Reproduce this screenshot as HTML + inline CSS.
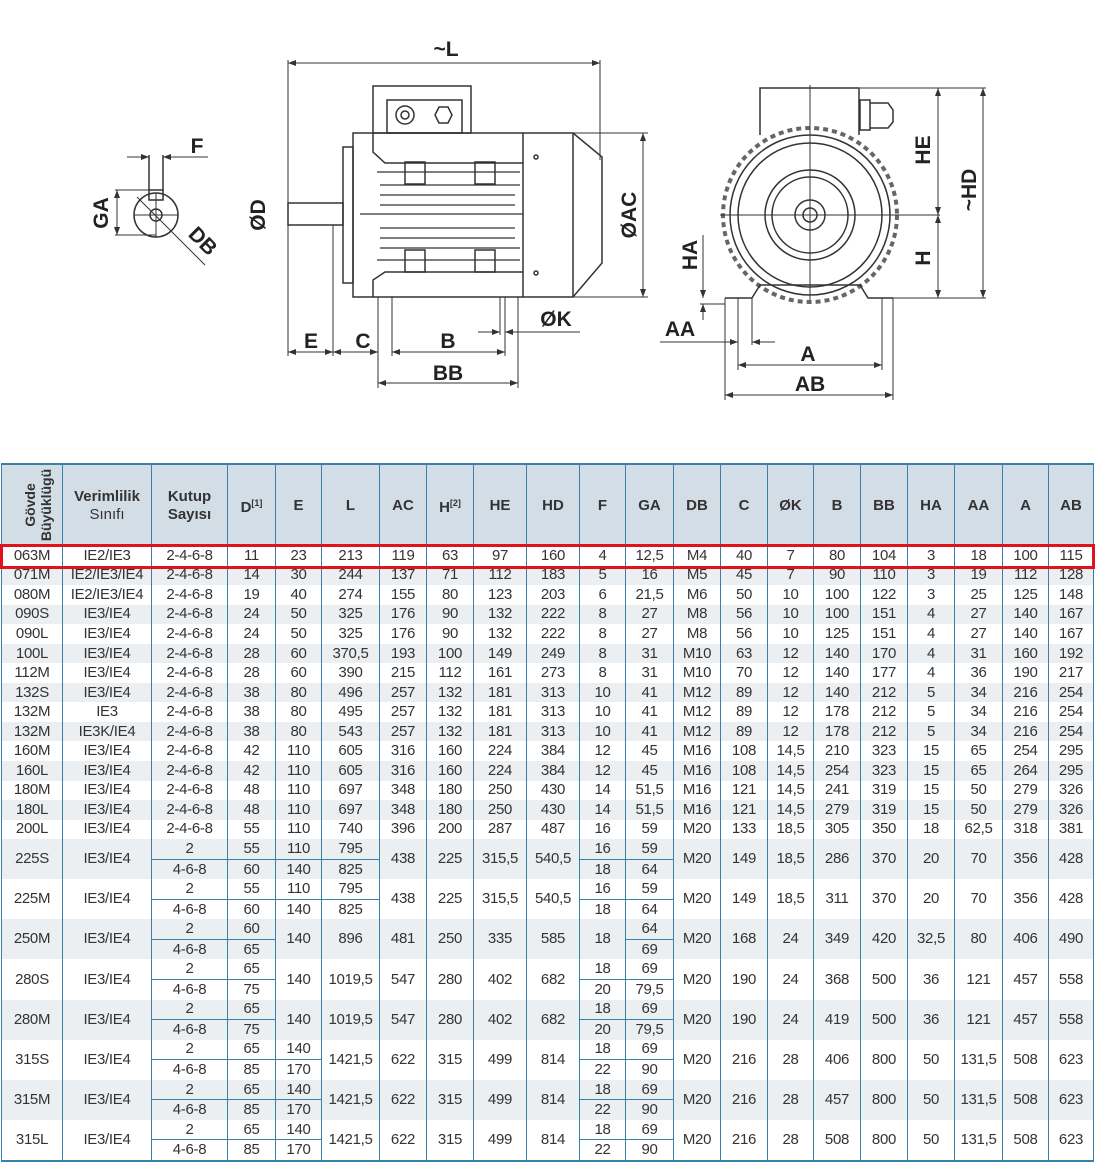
<!DOCTYPE html>
<html><head><meta charset="utf-8">
<style>
body{margin:0;width:1095px;height:1168px;background:#fff;position:relative;overflow:hidden;font-family:"Liberation Sans",sans-serif;}
svg{position:absolute;left:0;top:0}
table{position:absolute;left:1px;top:463px;border-collapse:collapse;table-layout:fixed;width:1092px;border-top:2px solid #3a7fa7;border-bottom:2px solid #3a7fa7;}
td{border-left:1.5px solid #3a7fa7;border-right:1.5px solid #3a7fa7;text-align:center;padding:0;font-size:15px;color:#333;height:19.55px;line-height:16px;white-space:nowrap;overflow:hidden;letter-spacing:-0.3px}
tr.h td{background:#d3dde6;height:81px;font-weight:bold;font-size:15px;color:#333;line-height:18px;letter-spacing:0}
tr.s td{background:#ebeff2}
td.t{border-bottom:1.5px solid #3a7fa7}
.v{display:inline-block;transform:rotate(-90deg);white-space:nowrap;line-height:16px;font-size:14px}
sup{font-size:9px}
#red{position:absolute;left:0;top:544px;width:1089px;height:19px;border:3px solid #e0121b}
</style></head><body>
<svg width="1095" height="460" viewBox="0 0 1095 460" font-family="Liberation Sans" font-weight="bold" font-size="21" fill="none" stroke="#333">
<defs><marker id="a" markerWidth="8" markerHeight="6" refX="8" refY="3" orient="auto-start-reverse"><path d="M0,0 L8,3 L0,6z" fill="#333" stroke="none"/></marker></defs>
<g stroke-width="1.5">
<circle cx="156" cy="215" r="22"/><circle cx="156" cy="215" r="6"/>
<rect x="149" y="190" width="14" height="10"/>
<line x1="149" y1="155" x2="149" y2="190"/><line x1="163" y1="155" x2="163" y2="190"/>
</g>
<g stroke-width="1">
<line x1="127" y1="157" x2="149" y2="157" marker-end="url(#a)"/><line x1="208" y1="157" x2="163" y2="157" marker-end="url(#a)"/>
<line x1="115" y1="190" x2="149" y2="190"/><line x1="115" y1="235" x2="156" y2="235"/>
<line x1="117" y1="213" x2="117" y2="190" marker-end="url(#a)"/><line x1="117" y1="213" x2="117" y2="235" marker-end="url(#a)"/>
<line x1="137" y1="197" x2="205" y2="265"/><line x1="134" y1="215" x2="178" y2="215"/><line x1="156" y1="193" x2="156" y2="237"/>
</g>
<g stroke-width="1.5">
<rect x="373" y="86" width="98" height="47"/><rect x="387" y="100" width="75" height="33"/>
<circle cx="405" cy="115" r="9"/><circle cx="405" cy="115" r="4"/>
<polygon points="435,115 439,107 448,107 452,115 448,123 439,123"/>
<rect x="353" y="133" width="170" height="164"/>
<rect x="343" y="147" width="10" height="136"/>
<path d="M523,133 H573 L602,157 V263 L573,297 H523"/><line x1="573" y1="133" x2="573" y2="297"/>
<rect x="288" y="203" width="55" height="22"/>
<path d="M373,133 V152 L385,163 H523"/><path d="M373,297 V280 L385,272 H523"/>
<rect x="405" y="162" width="20" height="22"/><rect x="475" y="162" width="20" height="22"/>
<rect x="405" y="250" width="20" height="22"/><rect x="475" y="250" width="20" height="22"/>
<circle cx="536" cy="157" r="2"/><circle cx="536" cy="273" r="2"/>
</g>
<g stroke-width="1.2">
<line x1="377" y1="172" x2="520" y2="172"/><line x1="380" y1="185" x2="520" y2="185"/><line x1="380" y1="195" x2="515" y2="195"/><line x1="380" y1="205" x2="515" y2="205"/>
<line x1="360" y1="214" x2="523" y2="214"/>
<line x1="380" y1="228" x2="515" y2="228"/><line x1="380" y1="238" x2="515" y2="238"/><line x1="380" y1="248" x2="520" y2="248"/><line x1="377" y1="260" x2="520" y2="260"/>
</g>
<g stroke-width="1">
<line x1="288" y1="63" x2="600" y2="63" marker-start="url(#a)" marker-end="url(#a)"/>
<line x1="288" y1="60" x2="288" y2="356"/><line x1="600" y1="60" x2="600" y2="160"/>
<line x1="333" y1="225" x2="333" y2="356"/><line x1="378" y1="297" x2="378" y2="388"/><line x1="392" y1="297" x2="392" y2="356"/>
<line x1="500" y1="297" x2="500" y2="335"/><line x1="505" y1="297" x2="505" y2="356"/><line x1="518" y1="297" x2="518" y2="388"/>
<line x1="288" y1="352" x2="333" y2="352" marker-start="url(#a)" marker-end="url(#a)"/>
<line x1="333" y1="352" x2="378" y2="352" marker-start="url(#a)" marker-end="url(#a)"/>
<line x1="392" y1="352" x2="505" y2="352" marker-start="url(#a)" marker-end="url(#a)"/>
<line x1="378" y1="383" x2="518" y2="383" marker-start="url(#a)" marker-end="url(#a)"/>
<line x1="478" y1="332" x2="500" y2="332" marker-end="url(#a)"/><line x1="580" y1="332" x2="505" y2="332" marker-end="url(#a)"/>
<line x1="573" y1="133" x2="648" y2="133"/><line x1="573" y1="297" x2="648" y2="297"/>
<line x1="643" y1="133" x2="643" y2="297" marker-start="url(#a)" marker-end="url(#a)"/>
</g>
<g stroke-width="1.5">
<path d="M760,135 V88 H859 V135"/><rect x="860" y="100" width="10" height="30"/><path d="M870,103 H888 L893,110 V122 L888,128 H870"/>
<circle cx="810" cy="215" r="87" stroke-dasharray="5 4" stroke-width="4" stroke="#666"/>
<circle cx="810" cy="215" r="80"/><circle cx="810" cy="215" r="72"/>
<circle cx="810" cy="215" r="45"/><circle cx="810" cy="215" r="38"/>
<circle cx="810" cy="215" r="15"/><circle cx="810" cy="215" r="7"/>
<path d="M725,298 H752 L760,285 H860 L868,298 H893"/>
</g>
<g stroke-width="1">
<line x1="720" y1="215" x2="940" y2="215"/><line x1="810" y1="85" x2="810" y2="300"/>
<line x1="860" y1="88" x2="986" y2="88"/><line x1="893" y1="298" x2="986" y2="298"/>
<line x1="938" y1="88" x2="938" y2="215" marker-start="url(#a)" marker-end="url(#a)"/>
<line x1="938" y1="215" x2="938" y2="298" marker-start="url(#a)" marker-end="url(#a)"/>
<line x1="983" y1="88" x2="983" y2="298" marker-start="url(#a)" marker-end="url(#a)"/>
<line x1="725" y1="298" x2="725" y2="400"/><line x1="738" y1="298" x2="738" y2="370"/><line x1="752" y1="298" x2="752" y2="345"/>
<line x1="882" y1="298" x2="882" y2="370"/><line x1="893" y1="298" x2="893" y2="400"/>
<line x1="703" y1="235" x2="703" y2="298" marker-end="url(#a)"/><line x1="703" y1="320" x2="703" y2="304" marker-end="url(#a)"/>
<line x1="700" y1="304" x2="725" y2="304"/>
<line x1="660" y1="342" x2="738" y2="342" marker-end="url(#a)"/><line x1="775" y1="342" x2="752" y2="342" marker-end="url(#a)"/>
<line x1="738" y1="365" x2="882" y2="365" marker-start="url(#a)" marker-end="url(#a)"/>
<line x1="725" y1="395" x2="893" y2="395" marker-start="url(#a)" marker-end="url(#a)"/>
</g>
<g fill="#222" stroke="none">
<text x="197" y="153" text-anchor="middle">F</text>
<text transform="translate(108,213) rotate(-90)" text-anchor="middle">GA</text>
<text transform="translate(198,246) rotate(45)" text-anchor="middle">DB</text>
<text x="446" y="56" text-anchor="middle">~L</text>
<text transform="translate(265,215) rotate(-90)" text-anchor="middle">ØD</text>
<text x="311" y="348" text-anchor="middle">E</text><text x="363" y="348" text-anchor="middle">C</text>
<text x="448" y="348" text-anchor="middle">B</text><text x="448" y="380" text-anchor="middle">BB</text>
<text x="556" y="326" text-anchor="middle">ØK</text>
<text transform="translate(636,215) rotate(-90)" text-anchor="middle">ØAC</text>
<text transform="translate(697,255) rotate(-90)" text-anchor="middle">HA</text>
<text x="680" y="336" text-anchor="middle">AA</text>
<text x="808" y="361" text-anchor="middle">A</text><text x="810" y="391" text-anchor="middle">AB</text>
<text transform="translate(930,150) rotate(-90)" text-anchor="middle">HE</text>
<text transform="translate(930,258) rotate(-90)" text-anchor="middle">H</text>
<text transform="translate(976,190) rotate(-90)" text-anchor="middle">~HD</text>
</g>
</svg>
<table>
<colgroup><col style="width:61px"><col style="width:89px"><col style="width:76px"><col style="width:48px"><col style="width:46px"><col style="width:58px"><col style="width:47px"><col style="width:47px"><col style="width:53px"><col style="width:53px"><col style="width:46px"><col style="width:48px"><col style="width:47px"><col style="width:47px"><col style="width:46px"><col style="width:47px"><col style="width:47px"><col style="width:47px"><col style="width:48px"><col style="width:46px"><col style="width:45px"></colgroup>
<tr class="h"><td><span class="v">Gövde<br>Büyüklügü</span></td><td>Verimlilik<br><span style="font-weight:normal">Sınıfı</span></td><td>Kutup<br>Sayısı</td><td>D<sup>[1]</sup></td><td>E</td><td>L</td><td>AC</td><td>H<sup>[2]</sup></td><td>HE</td><td>HD</td><td>F</td><td>GA</td><td>DB</td><td>C</td><td>ØK</td><td>B</td><td>BB</td><td>HA</td><td>AA</td><td>A</td><td>AB</td></tr>
<tr><td>063M</td><td>IE2/IE3</td><td>2-4-6-8</td><td>11</td><td>23</td><td>213</td><td>119</td><td>63</td><td>97</td><td>160</td><td>4</td><td>12,5</td><td>M4</td><td>40</td><td>7</td><td>80</td><td>104</td><td>3</td><td>18</td><td>100</td><td>115</td></tr>
<tr class="s"><td>071M</td><td>IE2/IE3/IE4</td><td>2-4-6-8</td><td>14</td><td>30</td><td>244</td><td>137</td><td>71</td><td>112</td><td>183</td><td>5</td><td>16</td><td>M5</td><td>45</td><td>7</td><td>90</td><td>110</td><td>3</td><td>19</td><td>112</td><td>128</td></tr>
<tr><td>080M</td><td>IE2/IE3/IE4</td><td>2-4-6-8</td><td>19</td><td>40</td><td>274</td><td>155</td><td>80</td><td>123</td><td>203</td><td>6</td><td>21,5</td><td>M6</td><td>50</td><td>10</td><td>100</td><td>122</td><td>3</td><td>25</td><td>125</td><td>148</td></tr>
<tr class="s"><td>090S</td><td>IE3/IE4</td><td>2-4-6-8</td><td>24</td><td>50</td><td>325</td><td>176</td><td>90</td><td>132</td><td>222</td><td>8</td><td>27</td><td>M8</td><td>56</td><td>10</td><td>100</td><td>151</td><td>4</td><td>27</td><td>140</td><td>167</td></tr>
<tr><td>090L</td><td>IE3/IE4</td><td>2-4-6-8</td><td>24</td><td>50</td><td>325</td><td>176</td><td>90</td><td>132</td><td>222</td><td>8</td><td>27</td><td>M8</td><td>56</td><td>10</td><td>125</td><td>151</td><td>4</td><td>27</td><td>140</td><td>167</td></tr>
<tr class="s"><td>100L</td><td>IE3/IE4</td><td>2-4-6-8</td><td>28</td><td>60</td><td>370,5</td><td>193</td><td>100</td><td>149</td><td>249</td><td>8</td><td>31</td><td>M10</td><td>63</td><td>12</td><td>140</td><td>170</td><td>4</td><td>31</td><td>160</td><td>192</td></tr>
<tr><td>112M</td><td>IE3/IE4</td><td>2-4-6-8</td><td>28</td><td>60</td><td>390</td><td>215</td><td>112</td><td>161</td><td>273</td><td>8</td><td>31</td><td>M10</td><td>70</td><td>12</td><td>140</td><td>177</td><td>4</td><td>36</td><td>190</td><td>217</td></tr>
<tr class="s"><td>132S</td><td>IE3/IE4</td><td>2-4-6-8</td><td>38</td><td>80</td><td>496</td><td>257</td><td>132</td><td>181</td><td>313</td><td>10</td><td>41</td><td>M12</td><td>89</td><td>12</td><td>140</td><td>212</td><td>5</td><td>34</td><td>216</td><td>254</td></tr>
<tr><td>132M</td><td>IE3</td><td>2-4-6-8</td><td>38</td><td>80</td><td>495</td><td>257</td><td>132</td><td>181</td><td>313</td><td>10</td><td>41</td><td>M12</td><td>89</td><td>12</td><td>178</td><td>212</td><td>5</td><td>34</td><td>216</td><td>254</td></tr>
<tr class="s"><td>132M</td><td>IE3K/IE4</td><td>2-4-6-8</td><td>38</td><td>80</td><td>543</td><td>257</td><td>132</td><td>181</td><td>313</td><td>10</td><td>41</td><td>M12</td><td>89</td><td>12</td><td>178</td><td>212</td><td>5</td><td>34</td><td>216</td><td>254</td></tr>
<tr><td>160M</td><td>IE3/IE4</td><td>2-4-6-8</td><td>42</td><td>110</td><td>605</td><td>316</td><td>160</td><td>224</td><td>384</td><td>12</td><td>45</td><td>M16</td><td>108</td><td>14,5</td><td>210</td><td>323</td><td>15</td><td>65</td><td>254</td><td>295</td></tr>
<tr class="s"><td>160L</td><td>IE3/IE4</td><td>2-4-6-8</td><td>42</td><td>110</td><td>605</td><td>316</td><td>160</td><td>224</td><td>384</td><td>12</td><td>45</td><td>M16</td><td>108</td><td>14,5</td><td>254</td><td>323</td><td>15</td><td>65</td><td>264</td><td>295</td></tr>
<tr><td>180M</td><td>IE3/IE4</td><td>2-4-6-8</td><td>48</td><td>110</td><td>697</td><td>348</td><td>180</td><td>250</td><td>430</td><td>14</td><td>51,5</td><td>M16</td><td>121</td><td>14,5</td><td>241</td><td>319</td><td>15</td><td>50</td><td>279</td><td>326</td></tr>
<tr class="s"><td>180L</td><td>IE3/IE4</td><td>2-4-6-8</td><td>48</td><td>110</td><td>697</td><td>348</td><td>180</td><td>250</td><td>430</td><td>14</td><td>51,5</td><td>M16</td><td>121</td><td>14,5</td><td>279</td><td>319</td><td>15</td><td>50</td><td>279</td><td>326</td></tr>
<tr><td>200L</td><td>IE3/IE4</td><td>2-4-6-8</td><td>55</td><td>110</td><td>740</td><td>396</td><td>200</td><td>287</td><td>487</td><td>16</td><td>59</td><td>M20</td><td>133</td><td>18,5</td><td>305</td><td>350</td><td>18</td><td>62,5</td><td>318</td><td>381</td></tr>
<tr class="s"><td rowspan="2">225S</td><td rowspan="2">IE3/IE4</td><td class="t">2</td><td class="t">55</td><td class="t">110</td><td class="t">795</td><td rowspan="2">438</td><td rowspan="2">225</td><td rowspan="2">315,5</td><td rowspan="2">540,5</td><td class="t">16</td><td class="t">59</td><td rowspan="2">M20</td><td rowspan="2">149</td><td rowspan="2">18,5</td><td rowspan="2">286</td><td rowspan="2">370</td><td rowspan="2">20</td><td rowspan="2">70</td><td rowspan="2">356</td><td rowspan="2">428</td></tr>
<tr class="s"><td>4-6-8</td><td>60</td><td>140</td><td>825</td><td>18</td><td>64</td></tr>
<tr><td rowspan="2">225M</td><td rowspan="2">IE3/IE4</td><td class="t">2</td><td class="t">55</td><td class="t">110</td><td class="t">795</td><td rowspan="2">438</td><td rowspan="2">225</td><td rowspan="2">315,5</td><td rowspan="2">540,5</td><td class="t">16</td><td class="t">59</td><td rowspan="2">M20</td><td rowspan="2">149</td><td rowspan="2">18,5</td><td rowspan="2">311</td><td rowspan="2">370</td><td rowspan="2">20</td><td rowspan="2">70</td><td rowspan="2">356</td><td rowspan="2">428</td></tr>
<tr><td>4-6-8</td><td>60</td><td>140</td><td>825</td><td>18</td><td>64</td></tr>
<tr class="s"><td rowspan="2">250M</td><td rowspan="2">IE3/IE4</td><td class="t">2</td><td class="t">60</td><td rowspan="2">140</td><td rowspan="2">896</td><td rowspan="2">481</td><td rowspan="2">250</td><td rowspan="2">335</td><td rowspan="2">585</td><td rowspan="2">18</td><td class="t">64</td><td rowspan="2">M20</td><td rowspan="2">168</td><td rowspan="2">24</td><td rowspan="2">349</td><td rowspan="2">420</td><td rowspan="2">32,5</td><td rowspan="2">80</td><td rowspan="2">406</td><td rowspan="2">490</td></tr>
<tr class="s"><td>4-6-8</td><td>65</td><td>69</td></tr>
<tr><td rowspan="2">280S</td><td rowspan="2">IE3/IE4</td><td class="t">2</td><td class="t">65</td><td rowspan="2">140</td><td rowspan="2">1019,5</td><td rowspan="2">547</td><td rowspan="2">280</td><td rowspan="2">402</td><td rowspan="2">682</td><td class="t">18</td><td class="t">69</td><td rowspan="2">M20</td><td rowspan="2">190</td><td rowspan="2">24</td><td rowspan="2">368</td><td rowspan="2">500</td><td rowspan="2">36</td><td rowspan="2">121</td><td rowspan="2">457</td><td rowspan="2">558</td></tr>
<tr><td>4-6-8</td><td>75</td><td>20</td><td>79,5</td></tr>
<tr class="s"><td rowspan="2">280M</td><td rowspan="2">IE3/IE4</td><td class="t">2</td><td class="t">65</td><td rowspan="2">140</td><td rowspan="2">1019,5</td><td rowspan="2">547</td><td rowspan="2">280</td><td rowspan="2">402</td><td rowspan="2">682</td><td class="t">18</td><td class="t">69</td><td rowspan="2">M20</td><td rowspan="2">190</td><td rowspan="2">24</td><td rowspan="2">419</td><td rowspan="2">500</td><td rowspan="2">36</td><td rowspan="2">121</td><td rowspan="2">457</td><td rowspan="2">558</td></tr>
<tr class="s"><td>4-6-8</td><td>75</td><td>20</td><td>79,5</td></tr>
<tr><td rowspan="2">315S</td><td rowspan="2">IE3/IE4</td><td class="t">2</td><td class="t">65</td><td class="t">140</td><td rowspan="2">1421,5</td><td rowspan="2">622</td><td rowspan="2">315</td><td rowspan="2">499</td><td rowspan="2">814</td><td class="t">18</td><td class="t">69</td><td rowspan="2">M20</td><td rowspan="2">216</td><td rowspan="2">28</td><td rowspan="2">406</td><td rowspan="2">800</td><td rowspan="2">50</td><td rowspan="2">131,5</td><td rowspan="2">508</td><td rowspan="2">623</td></tr>
<tr><td>4-6-8</td><td>85</td><td>170</td><td>22</td><td>90</td></tr>
<tr class="s"><td rowspan="2">315M</td><td rowspan="2">IE3/IE4</td><td class="t">2</td><td class="t">65</td><td class="t">140</td><td rowspan="2">1421,5</td><td rowspan="2">622</td><td rowspan="2">315</td><td rowspan="2">499</td><td rowspan="2">814</td><td class="t">18</td><td class="t">69</td><td rowspan="2">M20</td><td rowspan="2">216</td><td rowspan="2">28</td><td rowspan="2">457</td><td rowspan="2">800</td><td rowspan="2">50</td><td rowspan="2">131,5</td><td rowspan="2">508</td><td rowspan="2">623</td></tr>
<tr class="s"><td>4-6-8</td><td>85</td><td>170</td><td>22</td><td>90</td></tr>
<tr><td rowspan="2">315L</td><td rowspan="2">IE3/IE4</td><td class="t">2</td><td class="t">65</td><td class="t">140</td><td rowspan="2">1421,5</td><td rowspan="2">622</td><td rowspan="2">315</td><td rowspan="2">499</td><td rowspan="2">814</td><td class="t">18</td><td class="t">69</td><td rowspan="2">M20</td><td rowspan="2">216</td><td rowspan="2">28</td><td rowspan="2">508</td><td rowspan="2">800</td><td rowspan="2">50</td><td rowspan="2">131,5</td><td rowspan="2">508</td><td rowspan="2">623</td></tr>
<tr><td>4-6-8</td><td>85</td><td>170</td><td>22</td><td>90</td></tr>
</table>
<div id="red"></div>
</body></html>
